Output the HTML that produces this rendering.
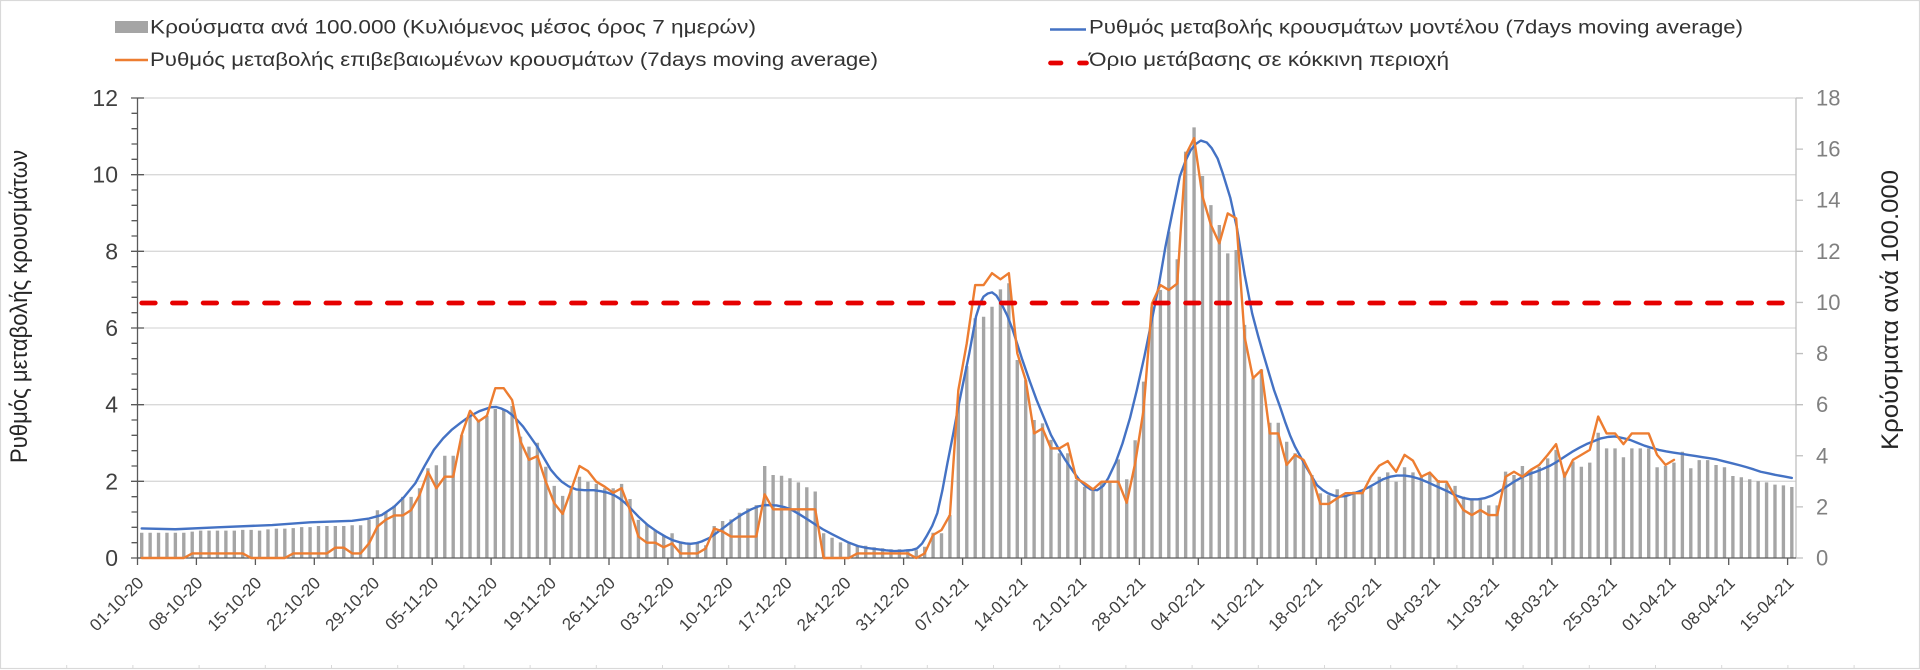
<!DOCTYPE html>
<html><head><meta charset="utf-8">
<style>
html,body{margin:0;padding:0;background:#fff;width:1920px;height:670px;overflow:hidden}
svg{display:block}
text{font-family:"Liberation Sans","DejaVu Sans",sans-serif}
</style></head>
<body>
<svg width="1920" height="670" viewBox="0 0 1920 670" xmlns="http://www.w3.org/2000/svg">
<rect x="0" y="0" width="1920" height="670" fill="#fff"/>
<rect x="0.5" y="0.5" width="1919" height="668" fill="none" stroke="#d9d9d9" stroke-width="1.2"/>
<path d="M66.7 665v4M132.9 665v4M199.1 665v4M265.3 665v4M331.5 665v4M397.7 665v4M463.9 665v4M530.1 665v4M596.3 665v4M662.5 665v4M728.7 665v4M794.9 665v4M861.1 665v4M927.3 665v4M993.5 665v4M1059.7 665v4M1125.9 665v4M1192.1 665v4M1258.3 665v4M1324.5 665v4M1390.7 665v4M1456.9 665v4M1523.1 665v4M1589.3 665v4M1655.5 665v4M1721.7 665v4M1787.9 665v4M1854.1 665v4" stroke="#d9d9d9" stroke-width="1"/>

<!-- gridlines -->
<path d="M137.5 481.33H1796M137.5 404.67H1796M137.5 328H1796M137.5 251.33H1796M137.5 174.67H1796M137.5 98H1796" stroke="#d9d9d9" stroke-width="1.3" fill="none"/>

<!-- bars -->
<g transform="translate(141.7 558) scale(8.419 -25.5556)" fill="#a5a5a5">
<path d="M-0.2 0h.4v.99h-.4zM.8 0h.4v.99h-.4zM1.8 0h.4v.99h-.4zM2.8 0h.4v.99h-.4zM3.8 0h.4v.99h-.4zM4.8 0h.4v.99h-.4zM5.8 0h.4v1.03h-.4zM6.8 0h.4v1.07h-.4zM7.8 0h.4v1.07h-.4zM8.8 0h.4v1.07h-.4zM9.8 0h.4v1.07h-.4zM10.8 0h.4v1.07h-.4zM11.8 0h.4v1.1h-.4zM12.8 0h.4v1.1h-.4zM13.8 0h.4v1.07h-.4zM14.8 0h.4v1.12h-.4zM15.8 0h.4v1.15h-.4zM16.8 0h.4v1.15h-.4zM17.8 0h.4v1.17h-.4zM18.8 0h.4v1.21h-.4zM19.8 0h.4v1.21h-.4zM20.8 0h.4v1.25h-.4zM21.8 0h.4v1.25h-.4zM22.8 0h.4v1.25h-.4zM23.8 0h.4v1.25h-.4zM24.8 0h.4v1.28h-.4zM25.8 0h.4v1.28h-.4zM26.8 0h.4v1.49h-.4zM27.8 0h.4v1.87h-.4zM28.8 0h.4v1.8h-.4zM29.8 0h.4v2.05h-.4zM30.8 0h.4v2.39h-.4zM31.8 0h.4v2.39h-.4zM32.8 0h.4v2.73h-.4zM33.8 0h.4v3.51h-.4zM34.8 0h.4v3.63h-.4zM35.8 0h.4v4h-.4zM36.8 0h.4v4h-.4zM37.8 0h.4v4.81h-.4zM38.8 0h.4v5.62h-.4zM39.8 0h.4v5.4h-.4zM40.8 0h.4v5.56h-.4zM41.8 0h.4v5.83h-.4zM42.8 0h.4v5.83h-.4zM43.8 0h.4v5.95h-.4zM44.8 0h.4v4.75h-.4zM45.8 0h.4v4.36h-.4zM46.8 0h.4v4.51h-.4zM47.8 0h.4v3.57h-.4zM48.8 0h.4v2.82h-.4zM49.8 0h.4v2.43h-.4zM50.8 0h.4v2.73h-.4zM51.8 0h.4v3.18h-.4zM52.8 0h.4v2.99h-.4zM53.8 0h.4v2.9h-.4zM54.8 0h.4v2.73h-.4zM55.8 0h.4v2.73h-.4zM56.8 0h.4v2.9h-.4zM57.8 0h.4v2.31h-.4zM58.8 0h.4v1.49h-.4zM59.8 0h.4v1.33h-.4zM60.8 0h.4v1.1h-.4zM61.8 0h.4v.9h-.4zM62.8 0h.4v.97h-.4zM63.8 0h.4v.58h-.4zM64.8 0h.4v.55h-.4zM65.8 0h.4v.57h-.4zM66.8 0h.4v.5h-.4zM67.8 0h.4v1.25h-.4zM68.8 0h.4v1.45h-.4zM69.8 0h.4v1.51h-.4zM70.8 0h.4v1.77h-.4zM71.8 0h.4v1.94h-.4zM72.8 0h.4v2.07h-.4zM73.8 0h.4v3.6h-.4zM74.8 0h.4v3.25h-.4zM75.8 0h.4v3.22h-.4zM76.8 0h.4v3.12h-.4zM77.8 0h.4v2.96h-.4zM78.8 0h.4v2.77h-.4zM79.8 0h.4v2.6h-.4zM80.8 0h.4v.97h-.4zM81.8 0h.4v.79h-.4zM82.8 0h.4v.61h-.4zM83.8 0h.4v.57h-.4zM84.8 0h.4v.48h-.4zM85.8 0h.4v.48h-.4zM86.8 0h.4v.42h-.4zM87.8 0h.4v.38h-.4zM88.8 0h.4v.34h-.4zM89.8 0h.4v.34h-.4zM90.8 0h.4v.34h-.4zM91.8 0h.4v.31h-.4zM92.8 0h.4v.44h-.4zM93.8 0h.4v.99h-.4zM94.8 0h.4v.97h-.4zM95.8 0h.4v1.68h-.4zM96.8 0h.4v6.05h-.4zM97.8 0h.4v7.51h-.4zM98.8 0h.4v9.38h-.4zM99.8 0h.4v9.44h-.4zM100.8 0h.4v9.83h-.4zM101.8 0h.4v10.51h-.4zM102.8 0h.4v10.75h-.4zM103.8 0h.4v7.75h-.4zM104.8 0h.4v6.96h-.4zM105.8 0h.4v5.4h-.4zM106.8 0h.4v5.27h-.4zM107.8 0h.4v4.62h-.4zM108.8 0h.4v4.1h-.4zM109.8 0h.4v4.1h-.4zM110.8 0h.4v3.05h-.4zM111.8 0h.4v2.79h-.4zM112.8 0h.4v2.7h-.4zM113.8 0h.4v2.99h-.4zM114.8 0h.4v2.95h-.4zM115.8 0h.4v3.86h-.4zM116.8 0h.4v3.08h-.4zM117.8 0h.4v4.61h-.4zM118.8 0h.4v6.9h-.4zM119.8 0h.4v9.83h-.4zM120.8 0h.4v10.49h-.4zM121.8 0h.4v12.77h-.4zM122.8 0h.4v11.69h-.4zM123.8 0h.4v15.9h-.4zM124.8 0h.4v16.85h-.4zM125.8 0h.4v14.95h-.4zM126.8 0h.4v13.81h-.4zM127.8 0h.4v13.03h-.4zM128.8 0h.4v11.92h-.4zM129.8 0h.4v12.05h-.4zM130.8 0h.4v9.12h-.4zM131.8 0h.4v7.03h-.4zM132.8 0h.4v7.38h-.4zM133.8 0h.4v5.29h-.4zM134.8 0h.4v5.29h-.4zM135.8 0h.4v4.55h-.4zM136.8 0h.4v4.1h-.4zM137.8 0h.4v3.83h-.4zM138.8 0h.4v3.25h-.4zM139.8 0h.4v2.53h-.4zM140.8 0h.4v2.46h-.4zM141.8 0h.4v2.69h-.4zM142.8 0h.4v2.46h-.4zM143.8 0h.4v2.6h-.4zM144.8 0h.4v2.53h-.4zM145.8 0h.4v2.79h-.4zM146.8 0h.4v3.18h-.4zM147.8 0h.4v3.35h-.4zM148.8 0h.4v2.99h-.4zM149.8 0h.4v3.55h-.4zM150.8 0h.4v3.35h-.4zM151.8 0h.4v3.18h-.4zM152.8 0h.4v3.31h-.4zM153.8 0h.4v3.05h-.4zM154.8 0h.4v2.92h-.4zM155.8 0h.4v2.82h-.4zM156.8 0h.4v2.4h-.4zM157.8 0h.4v2.27h-.4zM158.8 0h.4v2.27h-.4zM159.8 0h.4v2.06h-.4zM160.8 0h.4v2.06h-.4zM161.8 0h.4v3.38h-.4zM162.8 0h.4v3.25h-.4zM163.8 0h.4v3.6h-.4zM164.8 0h.4v3.44h-.4zM165.8 0h.4v3.57h-.4zM166.8 0h.4v3.9h-.4zM167.8 0h.4v4.23h-.4zM168.8 0h.4v3.38h-.4zM169.8 0h.4v3.77h-.4zM170.8 0h.4v3.57h-.4zM171.8 0h.4v3.73h-.4zM172.8 0h.4v4.9h-.4zM173.8 0h.4v4.29h-.4zM174.8 0h.4v4.29h-.4zM175.8 0h.4v3.94h-.4zM176.8 0h.4v4.29h-.4zM177.8 0h.4v4.29h-.4zM178.8 0h.4v4.29h-.4zM179.8 0h.4v3.55h-.4zM180.8 0h.4v3.6h-.4zM181.8 0h.4v3.73h-.4zM182.8 0h.4v4.16h-.4zM183.8 0h.4v3.51h-.4zM184.8 0h.4v3.83h-.4zM185.8 0h.4v3.83h-.4zM186.8 0h.4v3.64h-.4zM187.8 0h.4v3.55h-.4zM188.8 0h.4v3.21h-.4zM189.8 0h.4v3.16h-.4zM190.8 0h.4v3.08h-.4zM191.8 0h.4v3.01h-.4zM192.8 0h.4v2.96h-.4zM193.8 0h.4v2.87h-.4zM194.8 0h.4v2.84h-.4zM195.8 0h.4v2.78h-.4z"/>
</g>

<!-- axes -->
<path d="M1796 98V558" stroke="#bfbfbf" stroke-width="1.3"/>
<path d="M1796 558h7M1796 506.89h7M1796 455.78h7M1796 404.67h7M1796 353.56h7M1796 302.44h7M1796 251.33h7M1796 200.22h7M1796 149.11h7M1796 98h7" stroke="#bfbfbf" stroke-width="1.3"/>
<path d="M137.5 98V558H1796" stroke="#595959" stroke-width="1.3" fill="none"/>
<path d="M131 98h13M131 174.67h13M131 251.33h13M131 328h13M131 404.67h13M131 481.33h13M131 558h13M131.5 113.33h6M131.5 128.67h6M131.5 144h6M131.5 159.33h6M131.5 190h6M131.5 205.33h6M131.5 220.67h6M131.5 236h6M131.5 266.67h6M131.5 282h6M131.5 297.33h6M131.5 312.67h6M131.5 343.33h6M131.5 358.67h6M131.5 374h6M131.5 389.33h6M131.5 420h6M131.5 435.33h6M131.5 450.67h6M131.5 466h6M131.5 496.67h6M131.5 512h6M131.5 527.33h6M131.5 542.67h6" stroke="#595959" stroke-width="1.3"/>
<path d="M137.5 558v7M196.4 558v7M255.4 558v7M314.3 558v7M373.2 558v7M432.2 558v7M491.1 558v7M550 558v7M609 558v7M667.9 558v7M726.8 558v7M785.8 558v7M844.7 558v7M903.6 558v7M962.6 558v7M1021.5 558v7M1080.4 558v7M1139.4 558v7M1198.3 558v7M1257.2 558v7M1316.2 558v7M1375.1 558v7M1434 558v7M1493 558v7M1551.9 558v7M1610.8 558v7M1669.8 558v7M1728.7 558v7M1787.6 558v7" stroke="#595959" stroke-width="1.3"/>

<!-- lines -->
<g transform="translate(141.7 558) scale(8.419 -38.333)" fill="none">
<polyline vector-effect="non-scaling-stroke" stroke="#4472c4" stroke-width="2.4" stroke-linejoin="round" stroke-linecap="round" points="0,0.77 4,0.75 9,0.8 15.5,0.86 20,0.93 25,0.97 27,1.03 28.5,1.12 30,1.34 31.2,1.6 32.5,1.95 33.6,2.4 34.7,2.82 35.8,3.12 36.8,3.34 37.9,3.53 38.9,3.69 40.1,3.83 41.4,3.93 42.1,3.94 42.7,3.9 43.4,3.83 44,3.73 44.6,3.6 45.3,3.43 46.1,3.18 47,2.9 47.8,2.6 48.6,2.3 49.3,2.12 49.9,1.99 50.7,1.87 51.6,1.79 52.6,1.77 53.7,1.77 54.6,1.74 55.4,1.7 56.1,1.64 56.7,1.56 57.4,1.44 58,1.31 59,1.08 60.1,0.86 61.2,0.69 62.2,0.56 63,0.47 63.9,0.41 64.6,0.38 65.2,0.37 65.9,0.39 66.5,0.43 67.4,0.52 68.2,0.64 69.3,0.82 70.3,0.99 71.4,1.15 72.4,1.27 73.3,1.35 74.1,1.38 75.4,1.37 76.3,1.33 77.1,1.27 78.2,1.13 79.2,0.99 80.1,0.86 80.9,0.75 82,0.62 83,0.51 84,0.4 85.1,0.31 86.2,0.26 87.3,0.23 88.4,0.2 89.4,0.18 90.5,0.19 91.5,0.21 92.1,0.25 92.7,0.38 93.2,0.56 93.9,0.84 94.5,1.17 95.1,1.76 95.7,2.47 96.4,3.25 97,3.95 97.7,4.7 98.3,5.34 99.1,6.3 99.6,6.65 100,6.82 100.5,6.9 101,6.93 101.5,6.85 102.1,6.64 102.8,6.33 103.4,5.99 104,5.58 104.6,5.17 105.5,4.6 106.3,4.12 107.2,3.64 108,3.21 108.9,2.85 109.7,2.56 110.6,2.27 111.4,2.03 112.1,1.88 112.7,1.79 113.5,1.77 114.2,1.88 114.8,2.08 115.7,2.5 116.5,2.99 117.4,3.66 118.2,4.38 119.1,5.26 119.9,6.12 120.8,7.1 121.6,8.12 122.5,9.1 123.3,9.95 124,10.37 124.6,10.64 125.2,10.8 125.8,10.89 126.5,10.84 127.1,10.69 127.8,10.42 128.4,10.04 129.3,9.4 130.1,8.6 131,7.4 131.9,6.38 132.6,5.8 133.2,5.34 133.9,4.82 134.5,4.38 135.2,3.95 135.8,3.56 136.4,3.2 137,2.9 137.7,2.62 138.3,2.38 139,2.12 139.6,1.9 140.3,1.77 140.9,1.69 141.6,1.63 142.2,1.6 143.1,1.62 144,1.69 144.9,1.76 145.7,1.84 146.6,1.95 147.4,2.05 148.3,2.12 149.1,2.15 150,2.15 150.9,2.12 151.8,2.06 152.6,1.99 153.5,1.9 154.3,1.82 155.2,1.73 156,1.64 156.9,1.57 157.8,1.53 158.7,1.53 159.5,1.56 160.4,1.63 161.2,1.73 162.1,1.86 163,1.99 163.9,2.1 164.7,2.18 165.6,2.25 166.4,2.32 167.3,2.41 168.1,2.51 169,2.64 169.9,2.77 170.8,2.88 171.6,2.97 172.5,3.05 173.3,3.12 174.2,3.16 175,3.17 175.9,3.13 176.8,3.08 177.7,3 178.5,2.93 179.4,2.87 180.2,2.82 181.1,2.78 181.9,2.75 182.8,2.72 183.7,2.69 184.6,2.66 185.4,2.63 186.3,2.6 187.1,2.57 188,2.52 188.9,2.47 189.8,2.42 190.6,2.37 191.5,2.31 192.3,2.25 193.2,2.21 194,2.17 195,2.13 196,2.09"/>
<polyline vector-effect="non-scaling-stroke" stroke="#ed7d31" stroke-width="2.4" stroke-linejoin="round" stroke-linecap="round" points="0,0 1,0 2,0 3,0 4,0 5,0 6,0.12 7,0.12 8,0.12 9,0.12 10,0.12 11,0.12 12,0.12 13,0 14,0 15,0 16,0 17,0 18,0.12 19,0.12 20,0.12 21,0.12 22,0.12 23,0.27 24,0.27 25,0.12 26,0.12 27,0.38 28,0.82 29,1 30,1.11 31,1.11 32,1.25 33,1.64 34,2.25 35,1.82 36,2.12 37,2.12 38,3.21 39,3.84 40,3.56 41,3.71 42,4.43 43,4.43 44,4.12 45,3.04 46,2.56 47,2.66 48,1.99 49,1.43 50,1.15 51,1.77 52,2.4 53,2.27 54,1.99 55,1.86 56,1.7 57,1.82 58,1.25 59,0.56 60,0.4 61,0.4 62,0.28 63,0.38 64,0.12 65,0.12 66,0.12 67,0.25 68,0.77 69,0.69 70,0.56 71,0.56 72,0.56 73,0.56 74,1.66 75,1.27 76,1.27 77,1.27 78,1.27 79,1.27 80,1.27 81,0 82,0 83,0 84,0 85,0.12 86,0.12 87,0.12 88,0.12 89,0.12 90,0.12 91,0.12 92,0 93,0.12 94,0.6 95,0.73 96,1.12 97,4.38 98,5.6 99,7.12 100,7.12 101,7.43 102,7.27 103,7.43 104,5.34 105,4.64 106,3.25 107,3.38 108,2.86 109,2.86 110,2.99 111,2.08 112,1.95 113,1.79 114,1.99 115,1.99 116,1.99 117,1.44 118,2.47 119,3.86 120,6.64 121,7.12 122,6.99 123,7.16 124,10.51 125,10.95 126,9.43 127,8.69 128,8.21 129,8.99 130,8.86 131,5.77 132,4.69 133,4.9 134,3.25 135,3.25 136,2.43 137,2.69 138,2.56 139,2.12 140,1.41 141,1.41 142,1.56 143,1.69 144,1.69 145,1.69 146,2.12 147,2.41 148,2.53 149,2.25 150,2.69 151,2.54 152,2.12 153,2.23 154,1.99 155,1.99 156,1.6 157,1.25 158,1.12 159,1.25 160,1.12 161,1.12 162,2.12 163,2.25 164,2.12 165,2.3 166,2.43 167,2.69 168,2.97 169,2.12 170,2.56 171,2.69 172,2.82 173,3.69 174,3.25 175,3.25 176,2.97 177,3.25 178,3.25 179,3.25 180,2.69 181,2.43 182,2.56"/>
</g>
<line x1="141.7" y1="303" x2="1791.8" y2="303" stroke="#e60000" stroke-width="4.7" stroke-dasharray="13.6 17.1" stroke-linecap="round"/>

<!-- left tick labels -->
<g font-size="23" fill="#404040" text-anchor="end">
<text x="118" y="566">0</text>
<text x="118" y="489.3">2</text>
<text x="118" y="412.7">4</text>
<text x="118" y="336">6</text>
<text x="118" y="259.3">8</text>
<text x="118" y="182.7">10</text>
<text x="118" y="106">12</text>
</g>
<!-- right tick labels -->
<g font-size="22" fill="#808080">
<text x="1816" y="565.5">0</text>
<text x="1816" y="514.4">2</text>
<text x="1816" y="463.3">4</text>
<text x="1816" y="412.2">6</text>
<text x="1816" y="361.1">8</text>
<text x="1816" y="309.9">10</text>
<text x="1816" y="258.8">12</text>
<text x="1816" y="207.7">14</text>
<text x="1816" y="156.6">16</text>
<text x="1816" y="105.5">18</text>
</g>

<!-- x labels -->
<g font-size="17" fill="#404040" text-anchor="end">
<text transform="translate(144.7 584) rotate(-45)">01-10-20</text>
<text transform="translate(203.6 584) rotate(-45)">08-10-20</text>
<text transform="translate(262.6 584) rotate(-45)">15-10-20</text>
<text transform="translate(321.5 584) rotate(-45)">22-10-20</text>
<text transform="translate(380.4 584) rotate(-45)">29-10-20</text>
<text transform="translate(439.4 584) rotate(-45)">05-11-20</text>
<text transform="translate(498.3 584) rotate(-45)">12-11-20</text>
<text transform="translate(557.2 584) rotate(-45)">19-11-20</text>
<text transform="translate(616.2 584) rotate(-45)">26-11-20</text>
<text transform="translate(675.1 584) rotate(-45)">03-12-20</text>
<text transform="translate(734 584) rotate(-45)">10-12-20</text>
<text transform="translate(793 584) rotate(-45)">17-12-20</text>
<text transform="translate(851.9 584) rotate(-45)">24-12-20</text>
<text transform="translate(910.8 584) rotate(-45)">31-12-20</text>
<text transform="translate(969.8 584) rotate(-45)">07-01-21</text>
<text transform="translate(1028.7 584) rotate(-45)">14-01-21</text>
<text transform="translate(1087.6 584) rotate(-45)">21-01-21</text>
<text transform="translate(1146.6 584) rotate(-45)">28-01-21</text>
<text transform="translate(1205.5 584) rotate(-45)">04-02-21</text>
<text transform="translate(1264.4 584) rotate(-45)">11-02-21</text>
<text transform="translate(1323.4 584) rotate(-45)">18-02-21</text>
<text transform="translate(1382.3 584) rotate(-45)">25-02-21</text>
<text transform="translate(1441.2 584) rotate(-45)">04-03-21</text>
<text transform="translate(1500.2 584) rotate(-45)">11-03-21</text>
<text transform="translate(1559.1 584) rotate(-45)">18-03-21</text>
<text transform="translate(1618 584) rotate(-45)">25-03-21</text>
<text transform="translate(1677 584) rotate(-45)">01-04-21</text>
<text transform="translate(1735.9 584) rotate(-45)">08-04-21</text>
<text transform="translate(1794.8 584) rotate(-45)">15-04-21</text>
</g>

<!-- axis titles -->
<text transform="translate(27 463) rotate(-90)" font-size="24" fill="#262626" textLength="313" lengthAdjust="spacingAndGlyphs">Ρυθμός μεταβολής κρουσμάτων</text>
<text transform="translate(1898 450) rotate(-90)" font-size="24" fill="#262626" textLength="280" lengthAdjust="spacingAndGlyphs">Κρούσματα ανά 100.000</text>

<!-- legend -->
<rect x="115" y="21" width="33" height="12" fill="#a5a5a5"/>
<text x="150" y="33.5" font-size="19" fill="#333" textLength="606" lengthAdjust="spacingAndGlyphs">Κρούσματα ανά 100.000 (Κυλιόμενος μέσος όρος 7 ημερών)</text>
<line x1="1050" y1="29.5" x2="1086" y2="29.5" stroke="#4472c4" stroke-width="2.4"/>
<text x="1089" y="33.5" font-size="19" fill="#333" textLength="654" lengthAdjust="spacingAndGlyphs">Ρυθμός μεταβολής κρουσμάτων μοντέλου (7days moving average)</text>
<line x1="115" y1="60" x2="148" y2="60" stroke="#ed7d31" stroke-width="2.4"/>
<text x="150" y="66" font-size="19" fill="#333" textLength="728" lengthAdjust="spacingAndGlyphs">Ρυθμός μεταβολής επιβεβαιωμένων κρουσμάτων (7days moving average)</text>
<path d="M1050.5 63H1061M1079.5 63H1086.5" stroke="#e60000" stroke-width="4.7" stroke-linecap="round"/>
<text x="1089" y="66" font-size="19" fill="#333" textLength="360" lengthAdjust="spacingAndGlyphs">Όριο μετάβασης σε κόκκινη περιοχή</text>
</svg>
</body></html>
